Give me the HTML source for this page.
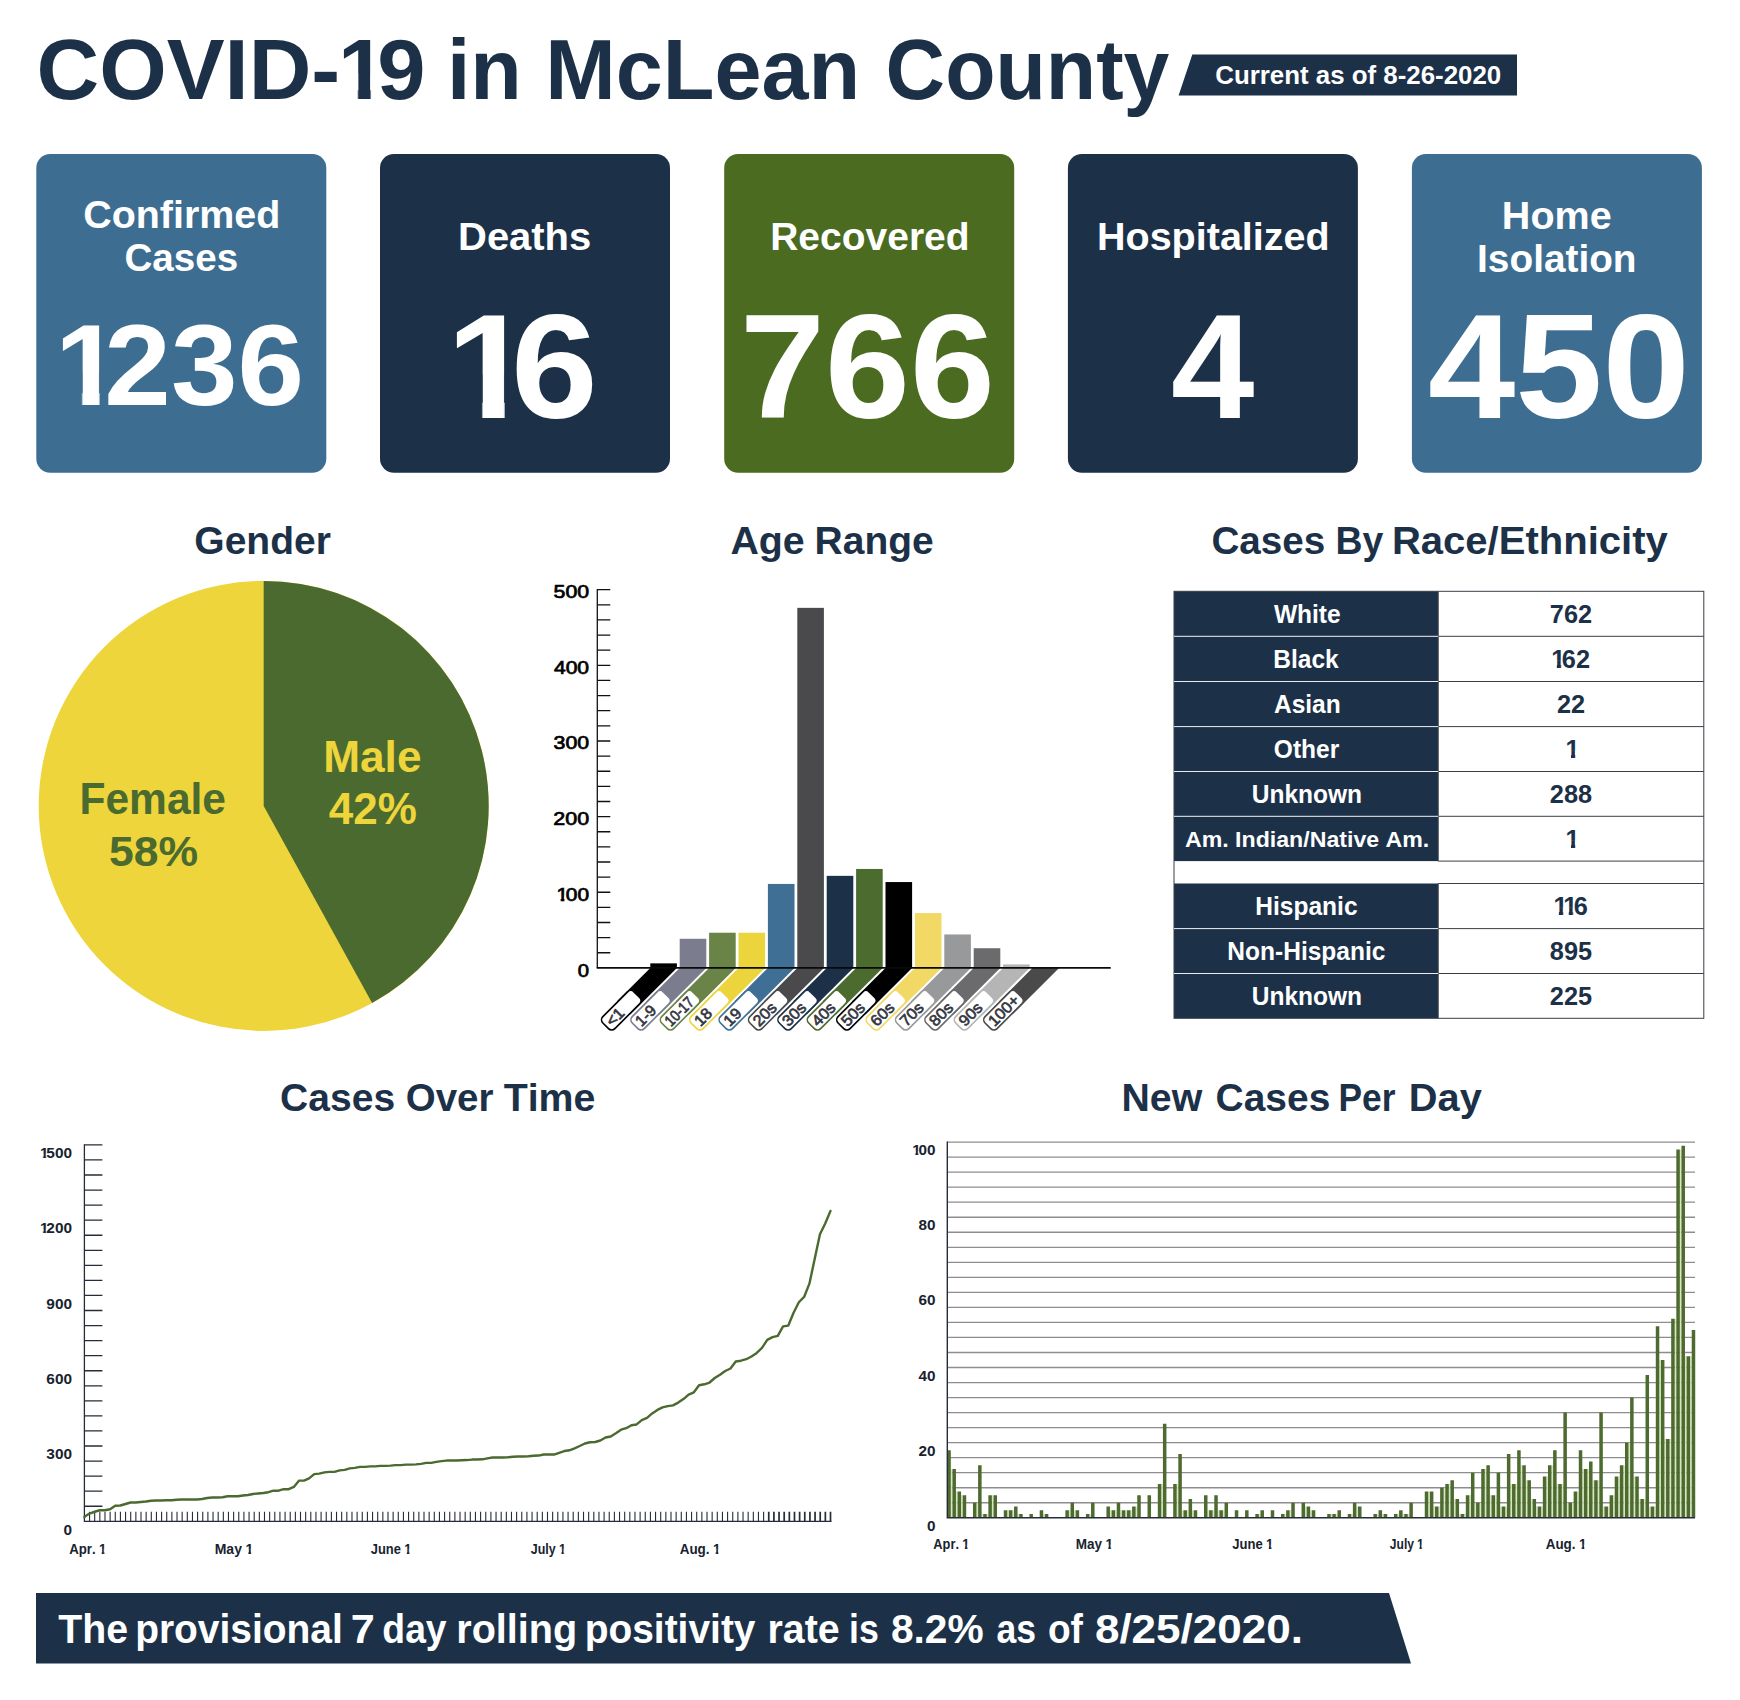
<!DOCTYPE html>
<html lang="en">
<head>
<meta charset="utf-8">
<title>COVID-19 in McLean County</title>
<style>
html,body{margin:0;padding:0;background:#ffffff;}
body{width:1740px;height:1700px;overflow:hidden;}
svg{display:block;font-family:"Liberation Sans",sans-serif;font-kerning:none;}
svg text{font-kerning:none;white-space:pre;}
</style>
</head>
<body>
<svg width="1740" height="1700" viewBox="0 0 1740 1700">
<defs>
<pattern id="n1" patternUnits="userSpaceOnUse" x="289.68" y="-71.19" width="71.19" height="83.75"><rect x="4.19" y="4.19" width="58.62" height="41.87" fill="#1c3148"/><rect x="27.99" y="44.80" width="12.57" height="34.76" fill="#1c3148"/></pattern>
<pattern id="n2" patternUnits="userSpaceOnUse" x="-14.07" y="-95.68" width="95.68" height="112.56"><rect x="5.63" y="5.63" width="78.79" height="56.28" fill="#ffffff"/><rect x="37.76" y="60.22" width="16.61" height="46.71" fill="#ffffff"/></pattern>
<pattern id="n3" patternUnits="userSpaceOnUse" x="-18.17" y="-123.55" width="123.55" height="145.35"><rect x="7.27" y="7.27" width="101.75" height="72.68" fill="#ffffff"/><rect x="48.87" y="77.76" width="21.22" height="60.32" fill="#ffffff"/></pattern>
<pattern id="n4" patternUnits="userSpaceOnUse" x="-2.73" y="-15.11" width="15.11" height="17.77"><rect x="0.89" y="0.89" width="12.44" height="8.89" fill="#000"/><rect x="5.60" y="9.51" width="3.11" height="7.38" fill="#000"/></pattern>
<pattern id="n5" patternUnits="userSpaceOnUse" x="-3.09" y="-21.00" width="21.00" height="24.71"><rect x="1.24" y="1.24" width="17.29" height="12.35" fill="#1c3148"/><rect x="7.98" y="13.22" width="4.27" height="10.25" fill="#1c3148"/></pattern>
<pattern id="n6" patternUnits="userSpaceOnUse" x="-3.09" y="-21.00" width="21.00" height="24.71"><rect x="1.24" y="1.24" width="17.29" height="12.35" fill="#1c3148"/><rect x="7.98" y="13.22" width="4.27" height="10.25" fill="#1c3148"/></pattern>
<pattern id="n7" patternUnits="userSpaceOnUse" x="-3.09" y="-21.00" width="21.00" height="24.71"><rect x="1.24" y="1.24" width="17.29" height="12.35" fill="#1c3148"/><rect x="7.98" y="13.22" width="4.27" height="10.25" fill="#1c3148"/></pattern>
<pattern id="n8" patternUnits="userSpaceOnUse" x="-3.09" y="-21.00" width="21.00" height="24.71"><rect x="1.24" y="1.24" width="17.29" height="12.35" fill="#1c3148"/><rect x="7.98" y="13.22" width="4.27" height="10.25" fill="#1c3148"/></pattern>
<pattern id="n9" patternUnits="userSpaceOnUse" x="6.78" y="-21.00" width="21.00" height="24.71"><rect x="1.24" y="1.24" width="17.29" height="12.35" fill="#1c3148"/><rect x="7.98" y="13.22" width="4.27" height="10.25" fill="#1c3148"/></pattern>
<pattern id="n10" patternUnits="userSpaceOnUse" x="-1.76" y="-11.95" width="11.95" height="14.06"><rect x="0.70" y="0.70" width="9.84" height="7.03" fill="#18232f"/><rect x="4.37" y="7.52" width="2.78" height="5.84" fill="#18232f"/></pattern>
<pattern id="n11" patternUnits="userSpaceOnUse" x="-1.76" y="-11.95" width="11.95" height="14.06"><rect x="0.70" y="0.70" width="9.84" height="7.03" fill="#18232f"/><rect x="4.37" y="7.52" width="2.78" height="5.84" fill="#18232f"/></pattern>
<pattern id="n12" patternUnits="userSpaceOnUse" x="30.18" y="-11.62" width="11.62" height="13.67"><rect x="0.68" y="0.68" width="9.57" height="6.84" fill="#18232f"/><rect x="4.23" y="7.31" width="2.72" height="5.67" fill="#18232f"/></pattern>
<pattern id="n13" patternUnits="userSpaceOnUse" x="29.42" y="-11.62" width="11.62" height="13.67"><rect x="0.68" y="0.68" width="9.57" height="6.84" fill="#18232f"/><rect x="4.23" y="7.31" width="2.72" height="5.67" fill="#18232f"/></pattern>
<pattern id="n14" patternUnits="userSpaceOnUse" x="34.86" y="-11.62" width="11.62" height="13.67"><rect x="0.68" y="0.68" width="9.57" height="6.84" fill="#18232f"/><rect x="4.23" y="7.31" width="2.72" height="5.67" fill="#18232f"/></pattern>
<pattern id="n15" patternUnits="userSpaceOnUse" x="30.19" y="-11.62" width="11.62" height="13.67"><rect x="0.68" y="0.68" width="9.57" height="6.84" fill="#18232f"/><rect x="4.23" y="7.31" width="2.72" height="5.67" fill="#18232f"/></pattern>
<pattern id="n16" patternUnits="userSpaceOnUse" x="33.28" y="-11.62" width="11.62" height="13.67"><rect x="0.68" y="0.68" width="9.57" height="6.84" fill="#18232f"/><rect x="4.23" y="7.31" width="2.72" height="5.67" fill="#18232f"/></pattern>
<pattern id="n17" patternUnits="userSpaceOnUse" x="-1.76" y="-11.95" width="11.95" height="14.06"><rect x="0.70" y="0.70" width="9.84" height="7.03" fill="#18232f"/><rect x="4.37" y="7.52" width="2.78" height="5.84" fill="#18232f"/></pattern>
<pattern id="n18" patternUnits="userSpaceOnUse" x="30.18" y="-11.62" width="11.62" height="13.67"><rect x="0.68" y="0.68" width="9.57" height="6.84" fill="#18232f"/><rect x="4.23" y="7.31" width="2.72" height="5.67" fill="#18232f"/></pattern>
<pattern id="n19" patternUnits="userSpaceOnUse" x="29.42" y="-11.62" width="11.62" height="13.67"><rect x="0.68" y="0.68" width="9.57" height="6.84" fill="#18232f"/><rect x="4.23" y="7.31" width="2.72" height="5.67" fill="#18232f"/></pattern>
<pattern id="n20" patternUnits="userSpaceOnUse" x="34.86" y="-11.62" width="11.62" height="13.67"><rect x="0.68" y="0.68" width="9.57" height="6.84" fill="#18232f"/><rect x="4.23" y="7.31" width="2.72" height="5.67" fill="#18232f"/></pattern>
<pattern id="n21" patternUnits="userSpaceOnUse" x="30.19" y="-11.62" width="11.62" height="13.67"><rect x="0.68" y="0.68" width="9.57" height="6.84" fill="#18232f"/><rect x="4.23" y="7.31" width="2.72" height="5.67" fill="#18232f"/></pattern>
<pattern id="n22" patternUnits="userSpaceOnUse" x="33.28" y="-11.62" width="11.62" height="13.67"><rect x="0.68" y="0.68" width="9.57" height="6.84" fill="#18232f"/><rect x="4.23" y="7.31" width="2.72" height="5.67" fill="#18232f"/></pattern>
</defs>
<rect x="0" y="0" width="1740" height="1700" fill="#ffffff"/>
<text transform="translate(36.44,98.60) scale(1.0121,1)" font-size="85.76" font-weight="700" fill="#1c3148" dx="0.00 0.00 0.00 0.00 0.00 0.00 -2.09 -9.00">COVID-<tspan fill="url(#n1) #1c3148">1</tspan>9</text>
<text transform="translate(446.91,98.60) scale(0.9830,1)" font-size="85.76" font-weight="700" fill="#1c3148">in</text>
<text transform="translate(545.34,98.60) scale(0.9863,1)" font-size="85.76" font-weight="700" fill="#1c3148">McLean</text>
<text transform="translate(885.62,98.60) scale(0.9610,1)" font-size="85.76" font-weight="700" fill="#1c3148">County</text>
<polygon points="1192.3,54.4 1517,54.4 1517,95.5 1178.6,95.5" fill="#1c3148"/>
<text transform="translate(1215.24,83.70) scale(0.9995,1)" font-size="25.87" font-weight="700" fill="#fff">Current as of 8-26-2020</text>
<rect x="36.3" y="154" width="290" height="318.8" rx="14" ry="14" fill="#3e6d92"/>
<rect x="380" y="154" width="290" height="318.8" rx="14" ry="14" fill="#1c3148"/>
<rect x="724.2" y="154" width="290" height="318.8" rx="14" ry="14" fill="#4a6b20"/>
<rect x="1067.9" y="154" width="290" height="318.8" rx="14" ry="14" fill="#1c3148"/>
<rect x="1411.9" y="154" width="290" height="318.8" rx="14" ry="14" fill="#3e6d92"/>
<text transform="translate(83.28,227.70) scale(1.0230,1)" font-size="38.52" font-weight="700" fill="#ffffff">Confirmed</text>
<text transform="translate(124.42,271.40) scale(1.0023,1)" font-size="38.52" font-weight="700" fill="#ffffff">Cases</text>
<text transform="translate(57.64,405.10) scale(1.0384,1)" font-size="115.26" font-weight="700" fill="#ffffff" dx="-2.81 -16.32 0.00 0.00"><tspan fill="url(#n2) #ffffff">1</tspan>236</text>
<text transform="translate(458.03,250.10) scale(1.0372,1)" font-size="38.52" font-weight="700" fill="#ffffff">Deaths</text>
<text transform="translate(450.14,417.80) scale(1.0487,1)" font-size="148.84" font-weight="700" fill="#ffffff" dx="-3.63 -21.08"><tspan fill="url(#n3) #ffffff">1</tspan>6</text>
<text transform="translate(770.19,250.10) scale(1.0122,1)" font-size="38.52" font-weight="700" fill="#ffffff">Recovered</text>
<text transform="translate(740.04,417.80) scale(1.0264,1)" font-size="148.84" font-weight="700" fill="#ffffff">766</text>
<text transform="translate(1096.96,250.10) scale(1.0260,1)" font-size="38.52" font-weight="700" fill="#ffffff">Hospitalized</text>
<text transform="translate(1170.93,417.80) scale(1.0072,1)" font-size="148.84" font-weight="700" fill="#ffffff">4</text>
<text transform="translate(1501.86,228.60) scale(1.0260,1)" font-size="38.52" font-weight="700" fill="#ffffff">Home</text>
<text transform="translate(1477.10,272.30) scale(1.0072,1)" font-size="38.52" font-weight="700" fill="#ffffff">Isolation</text>
<text transform="translate(1428.02,417.90) scale(1.0547,1)" font-size="148.84" font-weight="700" fill="#ffffff">450</text>
<text transform="translate(194.30,553.80) scale(0.9941,1)" font-size="39.24" font-weight="700" fill="#1c3148">Gender</text>
<text y="553.80" font-size="39.24" font-weight="700" fill="#1c3148"><tspan x="730.42" textLength="74.32" lengthAdjust="spacingAndGlyphs">Age</tspan> <tspan x="814.59" textLength="119.14" lengthAdjust="spacingAndGlyphs">Range</tspan></text>
<text y="553.80" font-size="39.24" font-weight="700" fill="#1c3148"><tspan x="1211.42" textLength="113.77" lengthAdjust="spacingAndGlyphs">Cases</tspan> <tspan x="1335.50" textLength="47.80" lengthAdjust="spacingAndGlyphs">By</tspan> <tspan x="1391.92" textLength="275.89" lengthAdjust="spacingAndGlyphs">Race/Ethnicity</tspan></text>
<text y="1110.90" font-size="39.24" font-weight="700" fill="#1c3148"><tspan x="280.10" textLength="115.00" lengthAdjust="spacingAndGlyphs">Cases</tspan> <tspan x="405.72" textLength="87.66" lengthAdjust="spacingAndGlyphs">Over</tspan> <tspan x="503.66" textLength="91.79" lengthAdjust="spacingAndGlyphs">Time</tspan></text>
<text y="1110.90" font-size="39.24" font-weight="700" fill="#1c3148"><tspan x="1121.47" textLength="80.75" lengthAdjust="spacingAndGlyphs">New</tspan> <tspan x="1215.60" textLength="114.69" lengthAdjust="spacingAndGlyphs">Cases</tspan> <tspan x="1338.54" textLength="56.89" lengthAdjust="spacingAndGlyphs">Per</tspan> <tspan x="1408.84" textLength="72.97" lengthAdjust="spacingAndGlyphs">Day</tspan></text>
<circle cx="263.7" cy="805.9" r="225" fill="#edd53b"/>
<path d="M263.7,805.9 L263.7,580.9 A225,225 0 0 1 372.09,1003.07 Z" fill="#4b6a30"/>
<text transform="translate(79.45,813.60) scale(0.9659,1)" font-size="44.04" font-weight="700" fill="#4b6a30">Female</text>
<text transform="translate(108.93,865.60) scale(1.0364,1)" font-size="43.02" font-weight="700" fill="#4b6a30">58%</text>
<text transform="translate(323.14,772.10) scale(1.0148,1)" font-size="43.61" font-weight="700" fill="#edd53b">Male</text>
<text transform="translate(328.73,823.50) scale(1.0098,1)" font-size="43.61" font-weight="700" fill="#edd53b">42%</text>
<g stroke="#111" stroke-width="1.3" fill="none">
<path d="M597.3,589.1 V967.9"/>
<path d="M597.3,589.70 H610.3 M597.3,604.83 H610.3 M597.3,619.96 H610.3 M597.3,635.08 H610.3 M597.3,650.21 H610.3 M597.3,665.34 H610.3 M597.3,680.47 H610.3 M597.3,695.60 H610.3 M597.3,710.72 H610.3 M597.3,725.85 H610.3 M597.3,740.98 H610.3 M597.3,756.11 H610.3 M597.3,771.24 H610.3 M597.3,786.36 H610.3 M597.3,801.49 H610.3 M597.3,816.62 H610.3 M597.3,831.75 H610.3 M597.3,846.88 H610.3 M597.3,862.00 H610.3 M597.3,877.13 H610.3 M597.3,892.26 H610.3 M597.3,907.39 H610.3 M597.3,922.52 H610.3 M597.3,937.64 H610.3 M597.3,952.77 H610.3"/>
</g>
<text transform="translate(553.55,598.15) scale(1.1719,1)" font-size="18.20" font-weight="400" fill="#000" stroke="#000" stroke-width="0.7">500</text>
<text transform="translate(553.92,673.79) scale(1.1595,1)" font-size="18.20" font-weight="400" fill="#000" stroke="#000" stroke-width="0.7">400</text>
<text transform="translate(553.59,749.43) scale(1.1705,1)" font-size="18.20" font-weight="400" fill="#000" stroke="#000" stroke-width="0.7">300</text>
<text transform="translate(553.32,825.07) scale(1.1796,1)" font-size="18.20" font-weight="400" fill="#000" stroke="#000" stroke-width="0.7">200</text>
<text transform="translate(557.48,900.71) scale(1.1495,1)" font-size="18.20" font-weight="400" fill="#000" dx="-0.95 -1.89 0.00" stroke="#000" stroke-width="0.7"><tspan fill="url(#n4) #000" stroke="url(#n4) #000">1</tspan>00</text>
<text transform="translate(577.81,976.85) scale(1.1149,1)" font-size="18.20" font-weight="400" fill="#000" stroke="#000" stroke-width="0.7">0</text>
<polygon points="650.30,967.9 676.90,967.9 630.25,1014.55 616.95,1001.25" fill="#000000"/>
<polygon points="679.70,967.9 706.30,967.9 659.65,1014.55 646.35,1001.25" fill="#7b7c8e"/>
<polygon points="709.10,967.9 735.70,967.9 689.05,1014.55 675.75,1001.25" fill="#6a8347"/>
<polygon points="738.50,967.9 765.10,967.9 718.45,1014.55 705.15,1001.25" fill="#ecd43c"/>
<polygon points="767.90,967.9 794.50,967.9 747.85,1014.55 734.55,1001.25" fill="#3f6f95"/>
<polygon points="797.30,967.9 823.90,967.9 777.25,1014.55 763.95,1001.25" fill="#4a4a4c"/>
<polygon points="826.70,967.9 853.30,967.9 806.65,1014.55 793.35,1001.25" fill="#1c3048"/>
<polygon points="856.10,967.9 882.70,967.9 836.05,1014.55 822.75,1001.25" fill="#4b6b2f"/>
<polygon points="885.50,967.9 912.10,967.9 865.45,1014.55 852.15,1001.25" fill="#000000"/>
<polygon points="914.90,967.9 941.50,967.9 894.85,1014.55 881.55,1001.25" fill="#f2d966"/>
<polygon points="944.30,967.9 970.90,967.9 924.25,1014.55 910.95,1001.25" fill="#98999b"/>
<polygon points="973.70,967.9 1000.30,967.9 953.65,1014.55 940.35,1001.25" fill="#6b6b6d"/>
<polygon points="1003.10,967.9 1029.70,967.9 983.05,1014.55 969.75,1001.25" fill="#b5b5b6"/>
<polygon points="1032.50,967.9 1059.10,967.9 1012.45,1014.55 999.15,1001.25" fill="#4a4a4a"/>
<g transform="translate(606.40,1025.10) rotate(-45)">
<rect x="-1" y="-8.50" width="44.00" height="17.00" rx="4.5" ry="4.5" fill="#fff" stroke="#000000" stroke-width="1.6"/>
<text transform="translate(2.6,5.6) scale(1.04,1)" font-size="15.7" font-weight="400" fill="#33353f" stroke="#33353f" stroke-width="0.65">&lt;1</text>
</g>
<g transform="translate(635.80,1025.10) rotate(-45)">
<rect x="-1" y="-8.50" width="44.00" height="17.00" rx="4.5" ry="4.5" fill="#fff" stroke="#7b7c8e" stroke-width="1.6"/>
<text transform="translate(2.6,5.6) scale(0.98,1)" font-size="15.7" font-weight="400" fill="#33353f" stroke="#33353f" stroke-width="0.65">1-9</text>
</g>
<g transform="translate(665.20,1025.10) rotate(-45)">
<rect x="-1" y="-8.50" width="44.00" height="17.00" rx="4.5" ry="4.5" fill="#fff" stroke="#6a8347" stroke-width="1.6"/>
<text transform="translate(2.6,5.6) scale(0.84,1)" font-size="15.7" font-weight="400" fill="#33353f" stroke="#33353f" stroke-width="0.65">10-17</text>
</g>
<g transform="translate(694.60,1025.10) rotate(-45)">
<rect x="-1" y="-8.50" width="44.00" height="17.00" rx="4.5" ry="4.5" fill="#fff" stroke="#ecd43c" stroke-width="1.6"/>
<text transform="translate(2.6,5.6) scale(1.04,1)" font-size="15.7" font-weight="400" fill="#33353f" stroke="#33353f" stroke-width="0.65">18</text>
</g>
<g transform="translate(724.00,1025.10) rotate(-45)">
<rect x="-1" y="-8.50" width="44.00" height="17.00" rx="4.5" ry="4.5" fill="#fff" stroke="#3f6f95" stroke-width="1.6"/>
<text transform="translate(2.6,5.6) scale(1.04,1)" font-size="15.7" font-weight="400" fill="#33353f" stroke="#33353f" stroke-width="0.65">19</text>
</g>
<g transform="translate(753.40,1025.10) rotate(-45)">
<rect x="-1" y="-8.50" width="44.00" height="17.00" rx="4.5" ry="4.5" fill="#fff" stroke="#4a4a4c" stroke-width="1.6"/>
<text transform="translate(2.6,5.6) scale(1.04,1)" font-size="15.7" font-weight="400" fill="#33353f" stroke="#33353f" stroke-width="0.65">20s</text>
</g>
<g transform="translate(782.80,1025.10) rotate(-45)">
<rect x="-1" y="-8.50" width="44.00" height="17.00" rx="4.5" ry="4.5" fill="#fff" stroke="#1c3048" stroke-width="1.6"/>
<text transform="translate(2.6,5.6) scale(1.04,1)" font-size="15.7" font-weight="400" fill="#33353f" stroke="#33353f" stroke-width="0.65">30s</text>
</g>
<g transform="translate(812.20,1025.10) rotate(-45)">
<rect x="-1" y="-8.50" width="44.00" height="17.00" rx="4.5" ry="4.5" fill="#fff" stroke="#4b6b2f" stroke-width="1.6"/>
<text transform="translate(2.6,5.6) scale(1.04,1)" font-size="15.7" font-weight="400" fill="#33353f" stroke="#33353f" stroke-width="0.65">40s</text>
</g>
<g transform="translate(841.60,1025.10) rotate(-45)">
<rect x="-1" y="-8.50" width="44.00" height="17.00" rx="4.5" ry="4.5" fill="#fff" stroke="#000000" stroke-width="1.6"/>
<text transform="translate(2.6,5.6) scale(1.04,1)" font-size="15.7" font-weight="400" fill="#33353f" stroke="#33353f" stroke-width="0.65">50s</text>
</g>
<g transform="translate(871.00,1025.10) rotate(-45)">
<rect x="-1" y="-8.50" width="44.00" height="17.00" rx="4.5" ry="4.5" fill="#fff" stroke="#f2d966" stroke-width="1.6"/>
<text transform="translate(2.6,5.6) scale(1.04,1)" font-size="15.7" font-weight="400" fill="#33353f" stroke="#33353f" stroke-width="0.65">60s</text>
</g>
<g transform="translate(900.40,1025.10) rotate(-45)">
<rect x="-1" y="-8.50" width="44.00" height="17.00" rx="4.5" ry="4.5" fill="#fff" stroke="#98999b" stroke-width="1.6"/>
<text transform="translate(2.6,5.6) scale(1.04,1)" font-size="15.7" font-weight="400" fill="#33353f" stroke="#33353f" stroke-width="0.65">70s</text>
</g>
<g transform="translate(929.80,1025.10) rotate(-45)">
<rect x="-1" y="-8.50" width="44.00" height="17.00" rx="4.5" ry="4.5" fill="#fff" stroke="#6b6b6d" stroke-width="1.6"/>
<text transform="translate(2.6,5.6) scale(1.04,1)" font-size="15.7" font-weight="400" fill="#33353f" stroke="#33353f" stroke-width="0.65">80s</text>
</g>
<g transform="translate(959.20,1025.10) rotate(-45)">
<rect x="-1" y="-8.50" width="44.00" height="17.00" rx="4.5" ry="4.5" fill="#fff" stroke="#b5b5b6" stroke-width="1.6"/>
<text transform="translate(2.6,5.6) scale(1.04,1)" font-size="15.7" font-weight="400" fill="#33353f" stroke="#33353f" stroke-width="0.65">90s</text>
</g>
<g transform="translate(988.60,1025.10) rotate(-45)">
<rect x="-1" y="-8.50" width="44.00" height="17.00" rx="4.5" ry="4.5" fill="#fff" stroke="#4a4a4a" stroke-width="1.6"/>
<text transform="translate(2.6,5.6) scale(1.04,1)" font-size="15.7" font-weight="400" fill="#33353f" stroke="#33353f" stroke-width="0.65">100+</text>
</g>
<rect x="650.30" y="963.36" width="26.6" height="4.54" fill="#000000"/>
<rect x="679.70" y="938.78" width="26.6" height="29.12" fill="#7b7c8e"/>
<rect x="709.10" y="932.73" width="26.6" height="35.17" fill="#6a8347"/>
<rect x="738.50" y="932.73" width="26.6" height="35.17" fill="#ecd43c"/>
<rect x="767.90" y="883.94" width="26.6" height="83.96" fill="#3f6f95"/>
<rect x="797.30" y="607.85" width="26.6" height="360.05" fill="#4a4a4c"/>
<rect x="826.70" y="875.85" width="26.6" height="92.05" fill="#1c3048"/>
<rect x="856.10" y="868.96" width="26.6" height="98.94" fill="#4b6b2f"/>
<rect x="885.50" y="882.05" width="26.6" height="85.85" fill="#000000"/>
<rect x="914.90" y="913.06" width="26.6" height="54.84" fill="#f2d966"/>
<rect x="944.30" y="934.47" width="26.6" height="33.43" fill="#98999b"/>
<rect x="973.70" y="948.23" width="26.6" height="19.67" fill="#6b6b6d"/>
<rect x="1003.10" y="964.42" width="26.6" height="3.48" fill="#b5b5b6"/>
<path d="M596.6999999999999,967.9 H1110.7" stroke="#0a0a0a" stroke-width="1.6" fill="none"/>
<rect x="1174.0" y="591.3" width="264.2" height="45.0" fill="#1c3148"/>
<rect x="1174.0" y="636.3" width="264.2" height="45.2" fill="#1c3148"/>
<rect x="1174.0" y="681.5" width="264.2" height="45.1" fill="#1c3148"/>
<rect x="1174.0" y="726.6" width="264.2" height="44.9" fill="#1c3148"/>
<rect x="1174.0" y="771.5" width="264.2" height="44.8" fill="#1c3148"/>
<rect x="1174.0" y="816.3" width="264.2" height="44.8" fill="#1c3148"/>
<rect x="1174.0" y="883.5" width="264.2" height="45.1" fill="#1c3148"/>
<rect x="1174.0" y="928.6" width="264.2" height="44.9" fill="#1c3148"/>
<rect x="1174.0" y="973.5" width="264.2" height="44.8" fill="#1c3148"/>
<g stroke="#3a3f47" stroke-width="1" fill="none">
<rect x="1174.0" y="591.3" width="529.8" height="427.0"/>
<path d="M1438.2,636.3 H1703.8"/>
<path d="M1438.2,681.5 H1703.8"/>
<path d="M1438.2,726.6 H1703.8"/>
<path d="M1438.2,771.5 H1703.8"/>
<path d="M1438.2,816.3 H1703.8"/>
<path d="M1438.2,861.1 H1703.8"/>
<path d="M1438.2,883.5 H1703.8"/>
<path d="M1438.2,928.6 H1703.8"/>
<path d="M1438.2,973.5 H1703.8"/>
<path d="M1438.2,591.3 V861.1 M1438.2,883.5 V1018.3"/>
</g>
<g stroke="#e8ecf0" stroke-width="1" fill="none">
<path d="M1174.0,636.3 H1438.2"/>
<path d="M1174.0,681.5 H1438.2"/>
<path d="M1174.0,726.6 H1438.2"/>
<path d="M1174.0,771.5 H1438.2"/>
<path d="M1174.0,816.3 H1438.2"/>
<path d="M1174.0,928.6 H1438.2"/>
<path d="M1174.0,973.5 H1438.2"/>
</g>
<text transform="translate(1273.91,622.80) scale(0.9700,1)" font-size="25.30" font-weight="700" fill="#ffffff">White</text>
<text transform="translate(1549.86,623.10) scale(1.0000,1)" font-size="25.30" font-weight="700" fill="#1c3148">762</text>
<text transform="translate(1273.32,667.80) scale(0.9700,1)" font-size="25.30" font-weight="700" fill="#ffffff">Black</text>
<text transform="translate(1551.94,668.10) scale(1.0000,1)" font-size="25.30" font-weight="700" fill="#1c3148" dx="-0.62 -3.58 0.00"><tspan fill="url(#n5) #1c3148">1</tspan>62</text>
<text transform="translate(1273.94,713.00) scale(0.9700,1)" font-size="25.30" font-weight="700" fill="#ffffff">Asian</text>
<text transform="translate(1557.00,713.30) scale(1.0000,1)" font-size="25.30" font-weight="700" fill="#1c3148">22</text>
<text transform="translate(1273.86,758.10) scale(0.9700,1)" font-size="25.30" font-weight="700" fill="#ffffff">Other</text>
<text transform="translate(1566.06,758.40) scale(1.0000,1)" font-size="25.30" font-weight="700" fill="#1c3148" dx="-0.62"><tspan fill="url(#n6) #1c3148">1</tspan></text>
<text transform="translate(1251.71,803.00) scale(0.9700,1)" font-size="25.30" font-weight="700" fill="#ffffff">Unknown</text>
<text transform="translate(1549.84,803.30) scale(1.0000,1)" font-size="25.30" font-weight="700" fill="#1c3148">288</text>
<text transform="translate(1184.92,846.80) scale(1.0927,1)" font-size="21.20" font-weight="700" fill="#ffffff">Am. Indian/Native Am.</text>
<text transform="translate(1566.06,848.10) scale(1.0000,1)" font-size="25.30" font-weight="700" fill="#1c3148" dx="-0.62"><tspan fill="url(#n7) #1c3148">1</tspan></text>
<text transform="translate(1255.30,915.00) scale(0.9700,1)" font-size="25.30" font-weight="700" fill="#ffffff">Hispanic</text>
<text transform="translate(1554.00,915.30) scale(1.0000,1)" font-size="25.30" font-weight="700" fill="#1c3148" dx="-0.62 -4.20 -3.58"><tspan fill="url(#n8) #1c3148">1</tspan><tspan fill="url(#n9) #1c3148">1</tspan>6</text>
<text transform="translate(1227.36,960.10) scale(0.9700,1)" font-size="25.30" font-weight="700" fill="#ffffff">Non-Hispanic</text>
<text transform="translate(1549.84,960.40) scale(1.0000,1)" font-size="25.30" font-weight="700" fill="#1c3148">895</text>
<text transform="translate(1251.71,1005.00) scale(0.9700,1)" font-size="25.30" font-weight="700" fill="#ffffff">Unknown</text>
<text transform="translate(1549.81,1005.30) scale(1.0000,1)" font-size="25.30" font-weight="700" fill="#1c3148">225</text>
<g stroke="#262d38" stroke-width="1.3" fill="none">
<path d="M84.4,1144.3000000000002 V1521.8999999999999"/>
<path d="M84.4,1144.90 H102.4 M84.4,1159.96 H102.4 M84.4,1175.01 H102.4 M84.4,1190.07 H102.4 M84.4,1205.12 H102.4 M84.4,1220.18 H102.4 M84.4,1235.24 H102.4 M84.4,1250.29 H102.4 M84.4,1265.35 H102.4 M84.4,1280.40 H102.4 M84.4,1295.46 H102.4 M84.4,1310.52 H102.4 M84.4,1325.57 H102.4 M84.4,1340.63 H102.4 M84.4,1355.68 H102.4 M84.4,1370.74 H102.4 M84.4,1385.80 H102.4 M84.4,1400.85 H102.4 M84.4,1415.91 H102.4 M84.4,1430.96 H102.4 M84.4,1446.02 H102.4 M84.4,1461.08 H102.4 M84.4,1476.13 H102.4 M84.4,1491.19 H102.4 M84.4,1506.24 H102.4"/>
<path d="M84.4,1521.3 H831.5"/>
<path d="M89.55,1521.3 v-9.5 M94.69,1521.3 v-9.5 M99.84,1521.3 v-9.5 M104.98,1521.3 v-9.5 M110.13,1521.3 v-9.5 M115.27,1521.3 v-9.5 M120.42,1521.3 v-9.5 M125.56,1521.3 v-9.5 M130.71,1521.3 v-9.5 M135.86,1521.3 v-9.5 M141.00,1521.3 v-9.5 M146.15,1521.3 v-9.5 M151.29,1521.3 v-9.5 M156.44,1521.3 v-9.5 M161.58,1521.3 v-9.5 M166.73,1521.3 v-9.5 M171.87,1521.3 v-9.5 M177.02,1521.3 v-9.5 M182.16,1521.3 v-9.5 M187.31,1521.3 v-9.5 M192.46,1521.3 v-9.5 M197.60,1521.3 v-9.5 M202.75,1521.3 v-9.5 M207.89,1521.3 v-9.5 M213.04,1521.3 v-9.5 M218.18,1521.3 v-9.5 M223.33,1521.3 v-9.5 M228.47,1521.3 v-9.5 M233.62,1521.3 v-9.5 M238.77,1521.3 v-9.5 M243.91,1521.3 v-9.5 M249.06,1521.3 v-9.5 M254.20,1521.3 v-9.5 M259.35,1521.3 v-9.5 M264.49,1521.3 v-9.5 M269.64,1521.3 v-9.5 M274.78,1521.3 v-9.5 M279.93,1521.3 v-9.5 M285.08,1521.3 v-9.5 M290.22,1521.3 v-9.5 M295.37,1521.3 v-9.5 M300.51,1521.3 v-9.5 M305.66,1521.3 v-9.5 M310.80,1521.3 v-9.5 M315.95,1521.3 v-9.5 M321.09,1521.3 v-9.5 M326.24,1521.3 v-9.5 M331.38,1521.3 v-9.5 M336.53,1521.3 v-9.5 M341.68,1521.3 v-9.5 M346.82,1521.3 v-9.5 M351.97,1521.3 v-9.5 M357.11,1521.3 v-9.5 M362.26,1521.3 v-9.5 M367.40,1521.3 v-9.5 M372.55,1521.3 v-9.5 M377.69,1521.3 v-9.5 M382.84,1521.3 v-9.5 M387.99,1521.3 v-9.5 M393.13,1521.3 v-9.5 M398.28,1521.3 v-9.5 M403.42,1521.3 v-9.5 M408.57,1521.3 v-9.5 M413.71,1521.3 v-9.5 M418.86,1521.3 v-9.5 M424.00,1521.3 v-9.5 M429.15,1521.3 v-9.5 M434.30,1521.3 v-9.5 M439.44,1521.3 v-9.5 M444.59,1521.3 v-9.5 M449.73,1521.3 v-9.5 M454.88,1521.3 v-9.5 M460.02,1521.3 v-9.5 M465.17,1521.3 v-9.5 M470.31,1521.3 v-9.5 M475.46,1521.3 v-9.5 M480.60,1521.3 v-9.5 M485.75,1521.3 v-9.5 M490.90,1521.3 v-9.5 M496.04,1521.3 v-9.5 M501.19,1521.3 v-9.5 M506.33,1521.3 v-9.5 M511.48,1521.3 v-9.5 M516.62,1521.3 v-9.5 M521.77,1521.3 v-9.5 M526.91,1521.3 v-9.5 M532.06,1521.3 v-9.5 M537.21,1521.3 v-9.5 M542.35,1521.3 v-9.5 M547.50,1521.3 v-9.5 M552.64,1521.3 v-9.5 M557.79,1521.3 v-9.5 M562.93,1521.3 v-9.5 M568.08,1521.3 v-9.5 M573.22,1521.3 v-9.5 M578.37,1521.3 v-9.5 M583.52,1521.3 v-9.5 M588.66,1521.3 v-9.5 M593.81,1521.3 v-9.5 M598.95,1521.3 v-9.5 M604.10,1521.3 v-9.5 M609.24,1521.3 v-9.5 M614.39,1521.3 v-9.5 M619.53,1521.3 v-9.5 M624.68,1521.3 v-9.5 M629.82,1521.3 v-9.5 M634.97,1521.3 v-9.5 M640.12,1521.3 v-9.5 M645.26,1521.3 v-9.5 M650.41,1521.3 v-9.5 M655.55,1521.3 v-9.5 M660.70,1521.3 v-9.5 M665.84,1521.3 v-9.5 M670.99,1521.3 v-9.5 M676.13,1521.3 v-9.5 M681.28,1521.3 v-9.5 M686.43,1521.3 v-9.5 M691.57,1521.3 v-9.5 M696.72,1521.3 v-9.5 M701.86,1521.3 v-9.5 M707.01,1521.3 v-9.5 M712.15,1521.3 v-9.5 M717.30,1521.3 v-9.5 M722.44,1521.3 v-9.5 M727.59,1521.3 v-9.5 M732.74,1521.3 v-9.5 M737.88,1521.3 v-9.5 M743.03,1521.3 v-9.5 M748.17,1521.3 v-9.5 M753.32,1521.3 v-9.5 M758.46,1521.3 v-9.5 M763.61,1521.3 v-9.5" stroke-width="1.1"/>
<path d="M768.75,1521.3 v-9.5 M773.90,1521.3 v-9.5 M779.04,1521.3 v-9.5 M784.19,1521.3 v-9.5 M789.34,1521.3 v-9.5 M794.48,1521.3 v-9.5 M799.63,1521.3 v-9.5 M804.77,1521.3 v-9.5 M809.92,1521.3 v-9.5 M815.06,1521.3 v-9.5 M820.21,1521.3 v-9.5 M825.35,1521.3 v-9.5 M830.50,1521.3 v-9.5" stroke-width="1.7"/>
</g>
<polyline points="84.4,1517.3 84.40,1516.78 89.54,1513.52 94.68,1511.76 99.81,1510.26 104.94,1510.26 110.07,1509.26 115.20,1505.74 120.33,1505.49 125.45,1503.99 130.57,1502.48 135.69,1502.48 140.81,1501.98 145.92,1501.48 151.04,1500.72 156.15,1500.47 161.27,1500.47 166.38,1500.22 171.49,1500.22 176.60,1499.72 181.70,1499.47 186.81,1499.47 191.92,1499.47 197.02,1499.47 202.12,1498.97 207.22,1497.96 212.33,1497.46 217.43,1497.46 222.52,1497.21 227.62,1496.21 232.72,1496.21 237.82,1496.21 242.91,1495.45 248.01,1494.95 253.10,1493.95 258.19,1493.45 263.29,1492.94 268.38,1492.19 273.47,1490.69 278.56,1490.69 283.65,1489.18 288.74,1489.18 293.83,1486.92 298.92,1480.65 304.01,1480.65 309.09,1478.39 314.18,1474.12 319.27,1473.62 324.36,1472.37 329.45,1471.87 334.53,1471.87 339.62,1470.36 344.71,1469.86 349.79,1468.35 354.88,1467.85 359.97,1466.85 365.06,1466.85 370.14,1466.35 375.23,1466.35 380.32,1465.84 385.41,1465.84 390.50,1465.59 395.59,1465.09 400.68,1465.09 405.77,1464.59 410.86,1464.59 415.95,1464.34 421.05,1463.84 426.14,1462.83 431.24,1462.83 436.33,1461.83 441.43,1461.08 446.53,1460.57 451.63,1460.57 456.73,1460.57 461.83,1460.32 466.94,1460.07 472.04,1459.57 477.15,1459.57 482.26,1459.32 487.37,1458.32 492.48,1457.56 497.60,1457.56 502.71,1457.56 507.83,1457.31 512.95,1456.81 518.07,1456.56 523.20,1456.56 528.32,1456.31 533.45,1455.81 538.58,1455.56 543.72,1454.55 548.85,1454.55 553.99,1454.55 559.13,1452.80 564.28,1451.04 569.43,1450.29 574.58,1448.28 579.73,1446.02 584.88,1443.51 590.04,1442.26 595.20,1442.01 600.37,1440.50 605.53,1437.49 610.70,1436.48 615.88,1433.22 621.05,1429.71 626.23,1428.20 631.42,1425.19 636.60,1424.44 641.79,1420.17 646.98,1417.92 652.18,1413.40 657.38,1409.89 662.58,1407.38 667.78,1406.12 672.99,1405.37 678.20,1402.61 683.42,1399.10 688.64,1394.58 693.86,1392.32 699.08,1385.29 704.31,1384.29 709.54,1382.53 714.77,1378.02 720.01,1374.75 725.25,1370.99 730.49,1368.48 735.73,1361.46 740.98,1360.70 746.23,1359.20 751.48,1356.44 756.74,1352.92 762.00,1347.91 767.25,1339.88 772.52,1337.11 777.78,1335.86 783.05,1326.32 788.31,1325.57 793.58,1312.77 798.85,1302.24 804.12,1296.97 809.40,1283.67 814.67,1259.07 819.95,1234.23 825.22,1223.44 830.50,1210.90" fill="none" stroke="#4b6a30" stroke-width="2.4" stroke-linejoin="round" stroke-linecap="round"/>
<text transform="translate(40.31,1158.20) scale(1.0700,1)" font-size="14.40" font-weight="700" fill="#18232f" dx="-0.35 -2.04 0.00 0.00"><tspan fill="url(#n10) #18232f">1</tspan>500</text>
<text transform="translate(40.31,1233.48) scale(1.0700,1)" font-size="14.40" font-weight="700" fill="#18232f" dx="-0.35 -2.04 0.00 0.00"><tspan fill="url(#n11) #18232f">1</tspan>200</text>
<text transform="translate(46.32,1308.76) scale(1.0700,1)" font-size="14.40" font-weight="700" fill="#18232f">900</text>
<text transform="translate(46.32,1384.04) scale(1.0700,1)" font-size="14.40" font-weight="700" fill="#18232f">600</text>
<text transform="translate(46.32,1459.32) scale(1.0700,1)" font-size="14.40" font-weight="700" fill="#18232f">300</text>
<text transform="translate(63.46,1534.60) scale(1.0700,1)" font-size="14.40" font-weight="700" fill="#18232f">0</text>
<text transform="translate(69.17,1553.60) scale(0.9454,1)" font-size="14.00" font-weight="700" fill="#18232f" dx="0.00 0.00 0.00 0.00 0.00 -0.34">Apr. <tspan fill="url(#n12) #18232f">1</tspan></text>
<text transform="translate(214.66,1553.60) scale(1.0019,1)" font-size="14.00" font-weight="700" fill="#18232f" dx="0.00 0.00 0.00 0.00 -0.34">May <tspan fill="url(#n13) #18232f">1</tspan></text>
<text transform="translate(370.80,1553.60) scale(0.9223,1)" font-size="14.00" font-weight="700" fill="#18232f" dx="0.00 0.00 0.00 0.00 0.00 -0.34">June <tspan fill="url(#n14) #18232f">1</tspan></text>
<text transform="translate(530.81,1553.60) scale(0.8895,1)" font-size="14.00" font-weight="700" fill="#18232f" dx="0.00 0.00 0.00 0.00 0.00 -0.34">July <tspan fill="url(#n15) #18232f">1</tspan></text>
<text transform="translate(679.66,1553.60) scale(0.9622,1)" font-size="14.00" font-weight="700" fill="#18232f" dx="0.00 0.00 0.00 0.00 0.00 -0.34">Aug. <tspan fill="url(#n16) #18232f">1</tspan></text>
<g stroke="#8d8d8f" stroke-width="1.3" fill="none">
<path d="M947.3,1142.10 H1695.0 M947.3,1157.13 H1695.0 M947.3,1172.16 H1695.0 M947.3,1187.18 H1695.0 M947.3,1202.21 H1695.0 M947.3,1217.24 H1695.0 M947.3,1232.27 H1695.0 M947.3,1247.30 H1695.0 M947.3,1262.32 H1695.0 M947.3,1277.35 H1695.0 M947.3,1292.38 H1695.0 M947.3,1307.41 H1695.0 M947.3,1322.44 H1695.0 M947.3,1337.46 H1695.0 M947.3,1352.49 H1695.0 M947.3,1367.52 H1695.0 M947.3,1382.55 H1695.0 M947.3,1397.58 H1695.0 M947.3,1412.60 H1695.0 M947.3,1427.63 H1695.0 M947.3,1442.66 H1695.0 M947.3,1457.69 H1695.0 M947.3,1472.72 H1695.0 M947.3,1487.74 H1695.0 M947.3,1502.77 H1695.0"/>
</g>
<path d="M950.80,1517.8v-48.84h1.63v48.84z M955.93,1517.8v-26.30h1.63v26.30z M961.07,1517.8v-22.54h1.63v22.54z M976.47,1517.8v-15.03h1.63v15.03z M981.60,1517.8v-3.76h1.63v3.76z M986.74,1517.8v-3.76h1.63v3.76z M991.87,1517.8v-22.54h1.63v22.54z M1007.27,1517.8v-7.51h1.63v7.51z M1012.41,1517.8v-7.51h1.63v7.51z M1017.54,1517.8v-3.76h1.63v3.76z M1043.21,1517.8v-3.76h1.63v3.76z M1068.88,1517.8v-7.51h1.63v7.51z M1074.02,1517.8v-7.51h1.63v7.51z M1089.42,1517.8v-3.76h1.63v3.76z M1109.95,1517.8v-7.51h1.63v7.51z M1115.09,1517.8v-7.51h1.63v7.51z M1120.22,1517.8v-7.51h1.63v7.51z M1125.36,1517.8v-7.51h1.63v7.51z M1130.49,1517.8v-7.51h1.63v7.51z M1135.62,1517.8v-11.27h1.63v11.27z M1161.29,1517.8v-33.81h1.63v33.81z M1176.70,1517.8v-33.81h1.63v33.81z M1181.83,1517.8v-7.51h1.63v7.51z M1186.96,1517.8v-7.51h1.63v7.51z M1192.10,1517.8v-7.51h1.63v7.51z M1207.50,1517.8v-7.51h1.63v7.51z M1212.63,1517.8v-7.51h1.63v7.51z M1217.77,1517.8v-7.51h1.63v7.51z M1222.90,1517.8v-7.51h1.63v7.51z M1258.84,1517.8v-3.76h1.63v3.76z M1284.51,1517.8v-3.76h1.63v3.76z M1289.64,1517.8v-7.51h1.63v7.51z M1305.05,1517.8v-11.27h1.63v11.27z M1310.18,1517.8v-7.51h1.63v7.51z M1330.72,1517.8v-3.76h1.63v3.76z M1335.85,1517.8v-3.76h1.63v3.76z M1351.25,1517.8v-3.76h1.63v3.76z M1356.39,1517.8v-11.27h1.63v11.27z M1376.92,1517.8v-3.76h1.63v3.76z M1382.06,1517.8v-3.76h1.63v3.76z M1397.46,1517.8v-3.76h1.63v3.76z M1402.59,1517.8v-3.76h1.63v3.76z M1407.73,1517.8v-3.76h1.63v3.76z M1428.26,1517.8v-26.30h1.63v26.30z M1433.40,1517.8v-11.27h1.63v11.27z M1438.53,1517.8v-11.27h1.63v11.27z M1443.66,1517.8v-30.06h1.63v30.06z M1448.80,1517.8v-33.81h1.63v33.81z M1453.93,1517.8v-18.79h1.63v18.79z M1459.07,1517.8v-3.76h1.63v3.76z M1464.20,1517.8v-3.76h1.63v3.76z M1469.33,1517.8v-22.54h1.63v22.54z M1474.47,1517.8v-15.03h1.63v15.03z M1479.60,1517.8v-15.03h1.63v15.03z M1484.74,1517.8v-48.84h1.63v48.84z M1489.87,1517.8v-22.54h1.63v22.54z M1495.00,1517.8v-22.54h1.63v22.54z M1500.14,1517.8v-11.27h1.63v11.27z M1505.27,1517.8v-11.27h1.63v11.27z M1510.41,1517.8v-33.81h1.63v33.81z M1515.54,1517.8v-33.81h1.63v33.81z M1520.67,1517.8v-52.60h1.63v52.60z M1525.81,1517.8v-37.57h1.63v37.57z M1530.94,1517.8v-18.79h1.63v18.79z M1536.08,1517.8v-11.27h1.63v11.27z M1541.21,1517.8v-11.27h1.63v11.27z M1546.34,1517.8v-41.33h1.63v41.33z M1551.48,1517.8v-52.60h1.63v52.60z M1556.61,1517.8v-33.81h1.63v33.81z M1561.75,1517.8v-33.81h1.63v33.81z M1566.88,1517.8v-15.03h1.63v15.03z M1572.01,1517.8v-15.03h1.63v15.03z M1577.15,1517.8v-26.30h1.63v26.30z M1582.28,1517.8v-48.84h1.63v48.84z M1587.42,1517.8v-48.84h1.63v48.84z M1592.55,1517.8v-37.57h1.63v37.57z M1597.68,1517.8v-37.57h1.63v37.57z M1602.82,1517.8v-11.27h1.63v11.27z M1607.95,1517.8v-11.27h1.63v11.27z M1613.09,1517.8v-22.54h1.63v22.54z M1618.22,1517.8v-41.33h1.63v41.33z M1623.35,1517.8v-52.60h1.63v52.60z M1628.49,1517.8v-75.14h1.63v75.14z M1633.62,1517.8v-41.33h1.63v41.33z M1638.76,1517.8v-18.79h1.63v18.79z M1643.89,1517.8v-18.79h1.63v18.79z M1649.02,1517.8v-11.27h1.63v11.27z M1654.16,1517.8v-11.27h1.63v11.27z M1659.29,1517.8v-157.79h1.63v157.79z M1664.43,1517.8v-78.90h1.63v78.90z M1669.56,1517.8v-78.90h1.63v78.90z M1674.69,1517.8v-199.12h1.63v199.12z M1679.83,1517.8v-368.19h1.63v368.19z M1684.96,1517.8v-161.55h1.63v161.55z M1690.10,1517.8v-161.55h1.63v161.55z" fill="#d6e6bd"/>
<path d="M947.30,1517.8v-67.63h3.5v67.63z M952.43,1517.8v-48.84h3.5v48.84z M957.57,1517.8v-26.30h3.5v26.30z M962.70,1517.8v-22.54h3.5v22.54z M972.97,1517.8v-15.03h3.5v15.03z M978.10,1517.8v-52.60h3.5v52.60z M983.24,1517.8v-3.76h3.5v3.76z M988.37,1517.8v-22.54h3.5v22.54z M993.51,1517.8v-22.54h3.5v22.54z M1003.77,1517.8v-7.51h3.5v7.51z M1008.91,1517.8v-7.51h3.5v7.51z M1014.04,1517.8v-11.27h3.5v11.27z M1019.18,1517.8v-3.76h3.5v3.76z M1029.44,1517.8v-3.76h3.5v3.76z M1039.71,1517.8v-7.51h3.5v7.51z M1044.85,1517.8v-3.76h3.5v3.76z M1065.38,1517.8v-7.51h3.5v7.51z M1070.52,1517.8v-15.03h3.5v15.03z M1075.65,1517.8v-7.51h3.5v7.51z M1085.92,1517.8v-3.76h3.5v3.76z M1091.05,1517.8v-15.03h3.5v15.03z M1106.45,1517.8v-11.27h3.5v11.27z M1111.59,1517.8v-7.51h3.5v7.51z M1116.72,1517.8v-15.03h3.5v15.03z M1121.86,1517.8v-7.51h3.5v7.51z M1126.99,1517.8v-7.51h3.5v7.51z M1132.12,1517.8v-11.27h3.5v11.27z M1137.26,1517.8v-22.54h3.5v22.54z M1147.53,1517.8v-22.54h3.5v22.54z M1157.79,1517.8v-33.81h3.5v33.81z M1162.93,1517.8v-93.93h3.5v93.93z M1173.20,1517.8v-33.81h3.5v33.81z M1178.33,1517.8v-63.87h3.5v63.87z M1183.46,1517.8v-7.51h3.5v7.51z M1188.60,1517.8v-18.79h3.5v18.79z M1193.73,1517.8v-7.51h3.5v7.51z M1204.00,1517.8v-22.54h3.5v22.54z M1209.13,1517.8v-7.51h3.5v7.51z M1214.27,1517.8v-22.54h3.5v22.54z M1219.40,1517.8v-7.51h3.5v7.51z M1224.54,1517.8v-15.03h3.5v15.03z M1234.80,1517.8v-7.51h3.5v7.51z M1245.07,1517.8v-7.51h3.5v7.51z M1255.34,1517.8v-3.76h3.5v3.76z M1260.47,1517.8v-7.51h3.5v7.51z M1270.74,1517.8v-7.51h3.5v7.51z M1281.01,1517.8v-3.76h3.5v3.76z M1286.14,1517.8v-7.51h3.5v7.51z M1291.28,1517.8v-15.03h3.5v15.03z M1301.55,1517.8v-15.03h3.5v15.03z M1306.68,1517.8v-11.27h3.5v11.27z M1311.81,1517.8v-7.51h3.5v7.51z M1327.22,1517.8v-3.76h3.5v3.76z M1332.35,1517.8v-3.76h3.5v3.76z M1337.48,1517.8v-7.51h3.5v7.51z M1347.75,1517.8v-3.76h3.5v3.76z M1352.89,1517.8v-15.03h3.5v15.03z M1358.02,1517.8v-11.27h3.5v11.27z M1373.42,1517.8v-3.76h3.5v3.76z M1378.56,1517.8v-7.51h3.5v7.51z M1383.69,1517.8v-3.76h3.5v3.76z M1393.96,1517.8v-3.76h3.5v3.76z M1399.09,1517.8v-7.51h3.5v7.51z M1404.23,1517.8v-3.76h3.5v3.76z M1409.36,1517.8v-15.03h3.5v15.03z M1424.76,1517.8v-26.30h3.5v26.30z M1429.90,1517.8v-26.30h3.5v26.30z M1435.03,1517.8v-11.27h3.5v11.27z M1440.16,1517.8v-30.06h3.5v30.06z M1445.30,1517.8v-33.81h3.5v33.81z M1450.43,1517.8v-37.57h3.5v37.57z M1455.57,1517.8v-18.79h3.5v18.79z M1460.70,1517.8v-3.76h3.5v3.76z M1465.83,1517.8v-22.54h3.5v22.54z M1470.97,1517.8v-45.08h3.5v45.08z M1476.10,1517.8v-15.03h3.5v15.03z M1481.24,1517.8v-48.84h3.5v48.84z M1486.37,1517.8v-52.60h3.5v52.60z M1491.50,1517.8v-22.54h3.5v22.54z M1496.64,1517.8v-45.08h3.5v45.08z M1501.77,1517.8v-11.27h3.5v11.27z M1506.91,1517.8v-63.87h3.5v63.87z M1512.04,1517.8v-33.81h3.5v33.81z M1517.17,1517.8v-67.63h3.5v67.63z M1522.31,1517.8v-52.60h3.5v52.60z M1527.44,1517.8v-37.57h3.5v37.57z M1532.58,1517.8v-18.79h3.5v18.79z M1537.71,1517.8v-11.27h3.5v11.27z M1542.84,1517.8v-41.33h3.5v41.33z M1547.98,1517.8v-52.60h3.5v52.60z M1553.11,1517.8v-67.63h3.5v67.63z M1558.25,1517.8v-33.81h3.5v33.81z M1563.38,1517.8v-105.20h3.5v105.20z M1568.51,1517.8v-15.03h3.5v15.03z M1573.65,1517.8v-26.30h3.5v26.30z M1578.78,1517.8v-67.63h3.5v67.63z M1583.92,1517.8v-48.84h3.5v48.84z M1589.05,1517.8v-56.36h3.5v56.36z M1594.18,1517.8v-37.57h3.5v37.57z M1599.32,1517.8v-105.20h3.5v105.20z M1604.45,1517.8v-11.27h3.5v11.27z M1609.59,1517.8v-22.54h3.5v22.54z M1614.72,1517.8v-41.33h3.5v41.33z M1619.85,1517.8v-52.60h3.5v52.60z M1624.99,1517.8v-75.14h3.5v75.14z M1630.12,1517.8v-120.22h3.5v120.22z M1635.26,1517.8v-41.33h3.5v41.33z M1640.39,1517.8v-18.79h3.5v18.79z M1645.52,1517.8v-142.77h3.5v142.77z M1650.66,1517.8v-11.27h3.5v11.27z M1655.79,1517.8v-191.61h3.5v191.61z M1660.93,1517.8v-157.79h3.5v157.79z M1666.06,1517.8v-78.90h3.5v78.90z M1671.19,1517.8v-199.12h3.5v199.12z M1676.33,1517.8v-368.19h3.5v368.19z M1681.46,1517.8v-371.94h3.5v371.94z M1686.60,1517.8v-161.55h3.5v161.55z M1691.73,1517.8v-187.85h3.5v187.85z" fill="#4d6a2f"/>
<path d="M947.3,1141.5 V1518.3999999999999 M947.3,1517.8 H1695.0" stroke="#262d38" stroke-width="1.4" fill="none"/>
<text transform="translate(912.59,1155.20) scale(1.0600,1)" font-size="14.40" font-weight="700" fill="#18232f" dx="-0.35 -2.04 0.00"><tspan fill="url(#n17) #18232f">1</tspan>00</text>
<text transform="translate(918.55,1230.34) scale(1.0600,1)" font-size="14.40" font-weight="700" fill="#18232f">80</text>
<text transform="translate(918.55,1305.48) scale(1.0600,1)" font-size="14.40" font-weight="700" fill="#18232f">60</text>
<text transform="translate(918.55,1380.62) scale(1.0600,1)" font-size="14.40" font-weight="700" fill="#18232f">40</text>
<text transform="translate(918.55,1455.76) scale(1.0600,1)" font-size="14.40" font-weight="700" fill="#18232f">20</text>
<text transform="translate(927.04,1530.90) scale(1.0600,1)" font-size="14.40" font-weight="700" fill="#18232f">0</text>
<text transform="translate(933.28,1549.40) scale(0.9179,1)" font-size="14.00" font-weight="700" fill="#18232f" dx="0.00 0.00 0.00 0.00 0.00 -0.34">Apr. <tspan fill="url(#n18) #18232f">1</tspan></text>
<text transform="translate(1075.69,1549.40) scale(0.9676,1)" font-size="14.00" font-weight="700" fill="#18232f" dx="0.00 0.00 0.00 0.00 -0.34">May <tspan fill="url(#n19) #18232f">1</tspan></text>
<text transform="translate(1232.30,1549.40) scale(0.9345,1)" font-size="14.00" font-weight="700" fill="#18232f" dx="0.00 0.00 0.00 0.00 0.00 -0.34">June <tspan fill="url(#n20) #18232f">1</tspan></text>
<text transform="translate(1389.82,1549.40) scale(0.8621,1)" font-size="14.00" font-weight="700" fill="#18232f" dx="0.00 0.00 0.00 0.00 0.00 -0.34">July <tspan fill="url(#n21) #18232f">1</tspan></text>
<text transform="translate(1545.66,1549.40) scale(0.9622,1)" font-size="14.00" font-weight="700" fill="#18232f" dx="0.00 0.00 0.00 0.00 0.00 -0.34">Aug. <tspan fill="url(#n22) #18232f">1</tspan></text>
<polygon points="36,1593 1389,1593 1411,1663.5 36,1663.5" fill="#1c3148"/>
<text y="1643.20" font-size="41.13" font-weight="700" fill="#ffffff"><tspan x="58.36" textLength="69.78" lengthAdjust="spacingAndGlyphs">The</tspan> <tspan x="135.13" textLength="207.72" lengthAdjust="spacingAndGlyphs">provisional</tspan> <tspan x="350.74" textLength="24.06" lengthAdjust="spacingAndGlyphs">7</tspan> <tspan x="382.37" textLength="64.23" lengthAdjust="spacingAndGlyphs">day</tspan> <tspan x="456.29" textLength="120.96" lengthAdjust="spacingAndGlyphs">rolling</tspan> <tspan x="584.63" textLength="170.88" lengthAdjust="spacingAndGlyphs">positivity</tspan> <tspan x="767.51" textLength="72.14" lengthAdjust="spacingAndGlyphs">rate</tspan> <tspan x="849.11" textLength="29.75" lengthAdjust="spacingAndGlyphs">is</tspan> <tspan x="890.91" textLength="92.76" lengthAdjust="spacingAndGlyphs">8.2%</tspan> <tspan x="996.46" textLength="39.50" lengthAdjust="spacingAndGlyphs">as</tspan> <tspan x="1047.95" textLength="34.98" lengthAdjust="spacingAndGlyphs">of</tspan> <tspan x="1094.90" textLength="208.13" lengthAdjust="spacingAndGlyphs">8/25/2020.</tspan></text>
</svg>
</body>
</html>
